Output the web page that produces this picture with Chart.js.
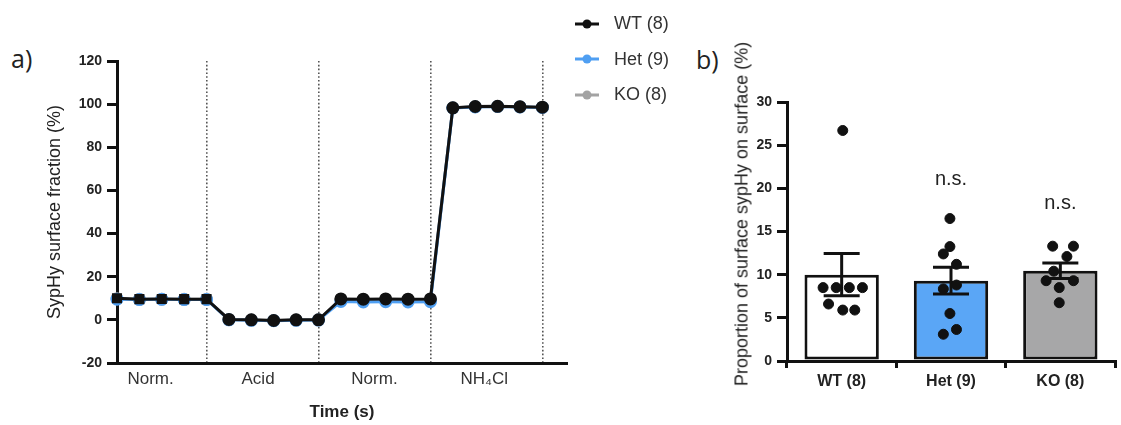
<!DOCTYPE html>
<html>
<head>
  <meta charset="UTF-8" />
  <title>SypHy surface fraction</title>
  <script src="https://cdn.jsdelivr.net/npm/chart.js"></script>
  <style>
    body { margin: 0; width: 1121px; height: 425px; background: #fff; position: relative; overflow: hidden;
           font-family: "Liberation Sans", Arial, sans-serif; }
    .panel { position: absolute; top: 0; height: 425px; }
    #leftBox { left: 0; width: 580px; }
    #rightBox { left: 690px; width: 431px; }
    canvas { display: block; }
    .tag { position: absolute; font-family: "Open Sans", sans-serif; font-size: 25px; color: #222; line-height: 1; }
    #legend { position: absolute; left: 574px; top: 6px; }
    .item { height: 35.5px; display: flex; align-items: center; font-size: 18px; color: #333; }
    .item svg { margin-right: 14px; }
    #rightTitle { position: absolute; left: 742px; top: 214px; transform: translate(-50%, -50%) rotate(-90deg);
                  white-space: nowrap; font-size: 18px; color: #222; }
  </style>
</head>
<body>
  <div class="tag" style="left:11px; top:46px;">a)</div>
  <div class="tag" style="left:696px; top:47px;">b)</div>
  <div class="panel" id="leftBox"><canvas id="left" width="580" height="425"></canvas></div>
  <div class="panel" id="rightBox"><canvas id="right" width="431" height="425"></canvas></div>
  <div id="legend"></div>
  <div id="rightTitle">Proportion of surface sypHy on surface (%)</div>
  <script>
    // panel a: time course, 20 frames in 4 phases
    const phaseNames = ['Norm.', 'Acid', 'Norm.', 'NH\u2084Cl'];
    const phaseLabelAt = [1.5, 6.3, 11.5, 16.4];
    const phaseEdges = [4, 9, 14, 19];
    const seriesNames = ['WT (8)', 'Het (9)', 'KO (8)'];
    const seriesColors = ['#111111', '#4f9ff2', '#a3a3a3'];
    const wtTrace = [10.0, 9.6, 9.7, 9.6, 9.6, 0.2, 0.0, -0.3, 0.0, 0.0, 9.7, 9.6, 9.7, 9.6, 9.7, 98.3, 98.9, 99.0, 98.8, 98.6];
    const hetTrace = [9.6, 9.4, 9.5, 9.4, 9.4, 0.0, -0.2, -0.4, -0.2, -0.1, 8.5, 8.3, 8.4, 8.3, 8.4, 98.2, 98.7, 98.9, 98.7, 98.5];
    const koTrace = [9.8, 9.5, 9.6, 9.5, 9.5, 0.1, -0.1, -0.3, -0.1, 0.0, 9.4, 9.3, 9.4, 9.3, 9.4, 98.3, 98.8, 98.9, 98.7, 98.5];
    const yTicksA = { min: -20, max: 120, step: 20 };

    // panel b: surface fraction per genotype
    const groups = ['WT (8)', 'Het (9)', 'KO (8)'];
    const groupFill = ['#ffffff', '#5aa6f6', '#a7a7a8'];
    const means = [10.0, 9.3, 10.45];
    const sems = [2.45, 1.55, 0.9];
    const wtCells = [26.7, 8.5, 8.5, 8.5, 8.5, 6.6, 5.9, 5.9];
    const hetCells = [16.5, 13.25, 12.4, 11.2, 8.8, 8.35, 5.5, 3.65, 3.1];
    const koCells = [13.3, 13.3, 12.1, 10.4, 9.3, 9.3, 8.5, 6.75];
    const wtJitter = [0.01, -0.17, -0.05, 0.07, 0.19, -0.12, 0.01, 0.12];
    const hetJitter = [-0.01, -0.01, -0.07, 0.05, 0.05, -0.07, -0.01, 0.05, -0.07];
    const koJitter = [-0.07, 0.12, 0.06, -0.06, -0.13, 0.12, -0.01, -0.01];
    const sigText = ['', 'n.s.', 'n.s.'];
    const sigY = [null, 21.0, 18.3];

    const black = '#111';
    const tickFont = { family: 'Liberation Sans', size: 14, weight: 'bold' };

    // legend
    const legend = document.getElementById('legend');
    seriesNames.forEach((name, i) => {
      const row = document.createElement('div');
      row.className = 'item';
      row.innerHTML = '<svg width="26" height="12"><line x1="1" y1="6" x2="25" y2="6" stroke="' + seriesColors[i] +
        '" stroke-width="3"/><circle cx="13" cy="6" r="4.5" fill="' + seriesColors[i] + '"/></svg>' + name;
      legend.appendChild(row);
    });

    const traces = [wtTrace, hetTrace, koTrace];
    new Chart(document.getElementById('left'), {
      type: 'line',
      data: {
        datasets: traces.map((tr, s) => ({
          label: seriesNames[s],
          data: tr.map((v, i) => ({ x: i, y: v })),
          borderColor: seriesColors[s],
          backgroundColor: seriesColors[s],
          borderWidth: 3,
          pointRadius: 5,
          pointStyle: ctx => ctx.dataIndex <= phaseEdges[0] && s === 0 ? 'rect' : 'circle',
          tension: 0,
          clip: false
        }))
      },
      options: {
        responsive: false,
        animation: false,
        layout: { padding: { left: 40, top: 61, right: 13, bottom: 0 } },
        plugins: { legend: { display: false }, tooltip: { enabled: false } },
        scales: {
          x: {
            type: 'linear', min: 0, max: 20.1,
            afterBuildTicks: s => { s.ticks = phaseLabelAt.map(v => ({ value: v })); },
            afterFit: s => { s.height = 62; },
            ticks: { callback: (v, i) => phaseNames[i], autoSkip: false, maxRotation: 0, padding: 6,
                     color: '#333', font: { family: 'Liberation Sans', size: 17 } },
            grid: { drawOnChartArea: false, drawTicks: false },
            border: { color: black, width: 3 },
            title: { display: true, text: 'Time (s)', color: '#222', padding: { top: 5, bottom: 2 },
                     font: { family: 'Liberation Sans', size: 17, weight: 'bold' } }
          },
          xEdges: {
            type: 'linear', position: 'bottom', min: 0, max: 20.1,
            afterBuildTicks: s => { s.ticks = phaseEdges.map(v => ({ value: v })); },
            afterFit: s => { s.height = 0; },
            ticks: { display: false },
            grid: { drawTicks: false, color: '#555', lineWidth: 1.6 },
            border: { display: false, dash: [1.6, 2.2] }
          },
          y: {
            min: yTicksA.min, max: yTicksA.max,
            afterFit: s => { s.width = 77; },
            ticks: { stepSize: yTicksA.step, color: '#222', font: tickFont, padding: 5 },
            grid: { drawOnChartArea: false, color: black, lineWidth: 3, tickLength: 10 },
            border: { color: black, width: 3 },
            title: { display: true, text: 'SypHy surface fraction (%)', color: '#222',
                     font: { family: 'Liberation Sans', size: 18 } }
          }
        }
      }
    });

    const cells = [wtCells, hetCells, koCells];
    const jitter = [wtJitter, hetJitter, koJitter];
    const dots = [];
    cells.forEach((arr, g) => arr.forEach((v, k) => dots.push({ x: g + jitter[g][k], y: v })));

    const errorBars = {
      id: 'errorBars',
      afterDatasetDraw(chart, args) {
        if (args.index !== 0) return;
        const { ctx, scales: { x, y } } = chart;
        ctx.save();
        ctx.strokeStyle = black;
        ctx.lineWidth = 3;
        means.forEach((m, i) => {
          const px = x.getPixelForValue(i);
          const top = y.getPixelForValue(m + sems[i]);
          const bot = y.getPixelForValue(m - sems[i]);
          ctx.beginPath();
          ctx.moveTo(px, top); ctx.lineTo(px, bot);
          ctx.moveTo(px - 18, top); ctx.lineTo(px + 18, top);
          ctx.moveTo(px - 18, bot); ctx.lineTo(px + 18, bot);
          ctx.stroke();
        });
        ctx.restore();
      },
      afterDraw(chart) {
        const { ctx, scales: { x, y } } = chart;
        ctx.save();
        ctx.fillStyle = '#222';
        ctx.font = '20px "Liberation Sans"';
        ctx.textAlign = 'center';
        ctx.textBaseline = 'middle';
        sigText.forEach((t, i) => {
          if (t) ctx.fillText(t, x.getPixelForValue(i), y.getPixelForValue(sigY[i]));
        });
        ctx.restore();
      }
    };

    new Chart(document.getElementById('right'), {
      type: 'bar',
      data: {
        datasets: [
          { type: 'bar', data: means.map((m, i) => ({ x: i, y: m })), backgroundColor: groupFill,
            borderColor: black, borderWidth: 3, borderSkipped: false, grouped: false,
            categoryPercentage: 1, barPercentage: 0.68, order: 1 },
          { type: 'scatter', data: dots, backgroundColor: black, borderColor: black,
            pointRadius: 5, order: 0, clip: false }
        ]
      },
      options: {
        responsive: false,
        animation: false,
        layout: { padding: { left: 40, top: 102, right: 0, bottom: 0 } },
        plugins: { legend: { display: false }, tooltip: { enabled: false } },
        scales: {
          x: {
            type: 'linear', min: -0.5, max: 2.5, offset: false,
            afterBuildTicks: s => { s.ticks = groups.map((g, i) => ({ value: i })); },
            afterFit: s => { s.height = 64; },
            ticks: { callback: (v, i) => groups[i], autoSkip: false, maxRotation: 0, color: '#222', padding: 4,
                     font: { family: 'Liberation Sans', size: 16, weight: 'bold' } },
            grid: { drawOnChartArea: false, color: black, lineWidth: 3, tickLength: 7 },
            border: { color: black, width: 3 }
          },
          y: {
            min: 0, max: 30,
            afterFit: s => { s.width = 57; },
            ticks: { stepSize: 5, color: '#222', font: tickFont, padding: 5 },
            grid: { drawOnChartArea: false, color: black, lineWidth: 3, tickLength: 10 },
            border: { color: black, width: 3 }
          }
        }
      },
      plugins: [errorBars]
    });
  </script>
</body>
</html>
